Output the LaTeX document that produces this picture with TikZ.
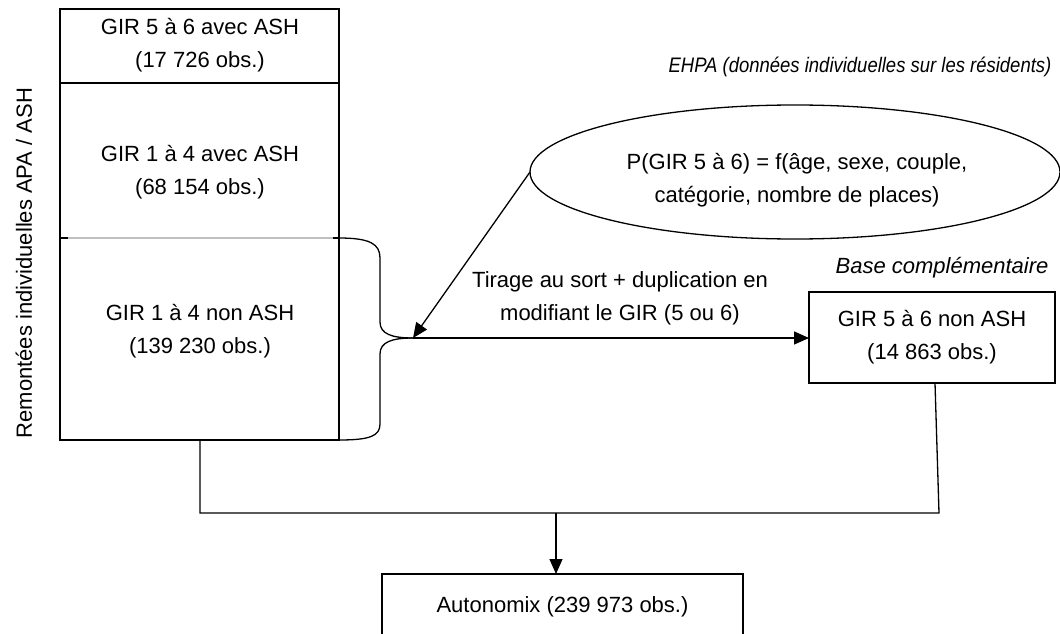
\documentclass[tikz,border=0pt]{standalone}
\usepackage{fontspec}
\setmainfont{Liberation Sans}
\newfontfamily\narrowfam[FakeStretch=0.88]{Liberation Sans}
\usetikzlibrary{arrows.meta,shapes.geometric}
\begin{document}
\begin{tikzpicture}[x=1pt,y=-1pt,
  every node/.style={inner sep=0pt,outer sep=0pt},
  txt/.style={font=\fontsize{22}{33}\selectfont,align=center},
  itxt/.style={font=\fontsize{22}{33}\selectfont\itshape,align=center},
  frame/.style={draw,line width=1.3pt},
  conn/.style={line width=1.3pt},
  arr/.style={line width=1.3pt,-{Triangle[length=15pt,width=13pt]}}]
\useasboundingbox (0,0) rectangle (1060,634);
% left column
\coordinate (ltnw) at (60,9);
\coordinate (ltne) at (339,9);
\coordinate (ltsw) at (60,83);
\coordinate (ltse) at (339,83);
\coordinate (lmsw) at (60,238);
\coordinate (lmse) at (339,238);
\coordinate (lbsw) at (60,440);
\coordinate (lbse) at (339,440);
\draw[frame] (ltnw) -- (ltne) -- (lbse) -- (lbsw) -- cycle;
\draw[frame] (ltsw) -- (ltse);
\draw[line width=1.3pt,black!25] (lmsw) -- (lmse);
\draw[frame] (lmsw) -- ++(8,0);
\draw[frame] (lmse) -- ++(-6,0);
\node[txt] (gtop) at (200,45.5) {GIR 5 à 6 avec ASH\\(17 726 obs.)};
\node[txt] (gmid) at (200,172.5) {GIR 1 à 4 avec ASH\\(68 154 obs.)};
\node[txt] (gbot) at (200,331.5) {GIR 1 à 4 non ASH\\(139 230 obs.)};
\node[txt,rotate=90] (side) at (24,263) {Remontées individuelles APA / ASH};
% brace
\coordinate (tip) at (413,338);
\draw[conn] (lmse) .. controls (370,238) and (380,244) .. (380,258)
  -- (380,322) .. controls (380,334) and (392,338) .. (tip);
\draw[conn] (tip) .. controls (392,338) and (380,342) .. (380,354)
  -- (380,424) .. controls (380,436) and (370,440) .. (lbse);
% ellipse
\node[draw,ellipse,line width=1.3pt,minimum width=530pt,minimum height=134pt] (ell) at (795,172) {};
\node[txt] (elltxt) at (797,180) {P(GIR 5 à 6) = f(âge, sexe, couple,\\catégorie, nombre de places)};
\node[font=\narrowfam\fontsize{21}{24}\selectfont\itshape] (ehpa) at (860,67) {EHPA (données individuelles sur les résidents)};
% right box
\node[draw,line width=1.3pt,txt,minimum width=246pt,minimum height=91pt] (gsix) at (932,337.5) {GIR 5 à 6 non ASH\\(14 863 obs.)};
\node[itxt] (base) at (942,268) {Base complémentaire};
% arrows
\draw[arr] (ell.west) -- (tip);
\draw[arr] (tip) -- (tip -| gsix.west);
\node[txt] (tirage) at (620,298.5) {Tirage au sort + duplication en\\modifiant le GIR (5 ou 6)};
% bottom
\node[draw,line width=1.3pt,txt,minimum width=361pt,minimum height=66pt] (auto) at (562.5,607) {Autonomix (239 973 obs.)};
\coordinate (lbot) at (200,440);
\coordinate (lcorner) at (200,513);
\coordinate (rcorner) at (939,513);
\coordinate (rtop) at (935,383);
\coordinate (junc) at (556,513);
\draw[conn] (lbot) -- (lcorner) -- (rcorner) -- (rtop);
\draw[arr] (junc) -- (junc |- auto.north);
\end{tikzpicture}
\end{document}
